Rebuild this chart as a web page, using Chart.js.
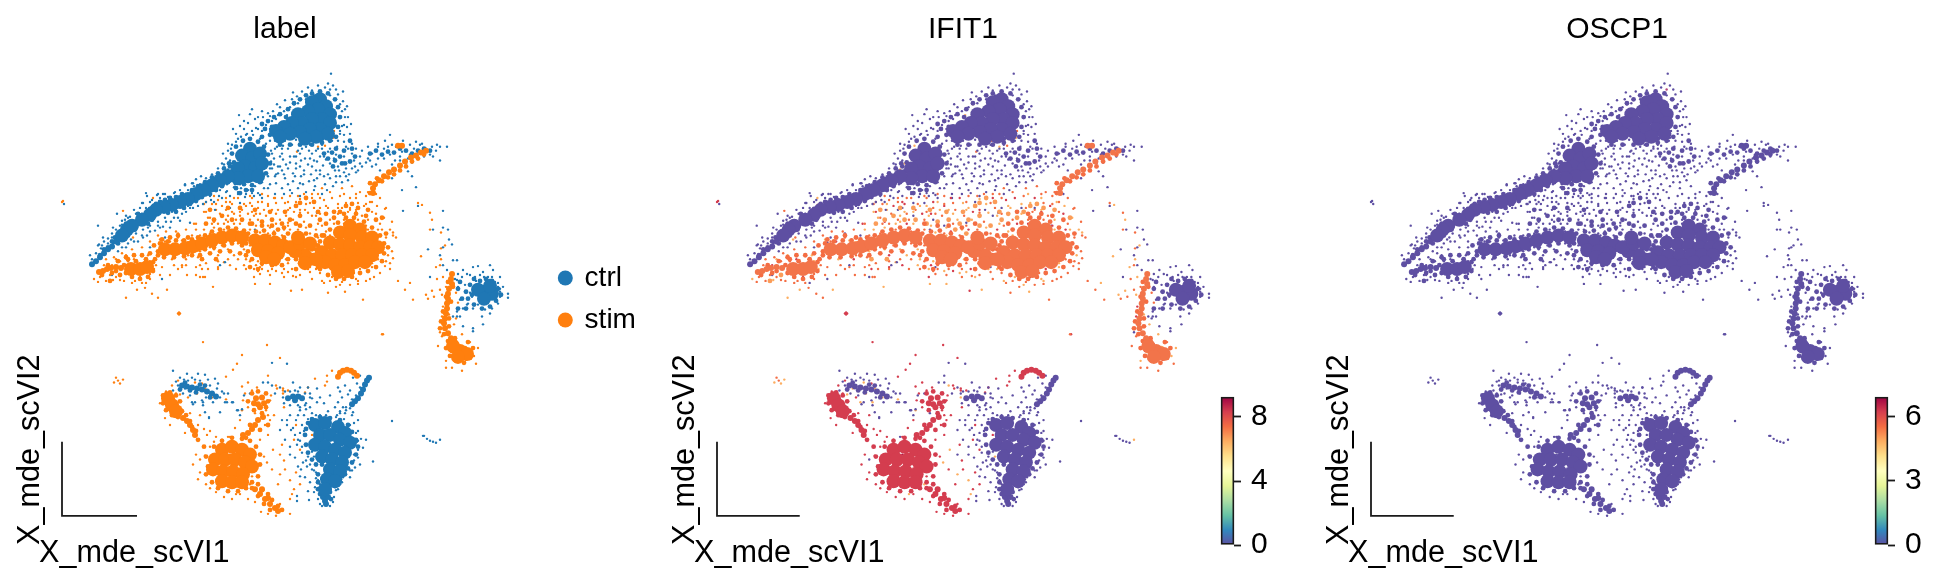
<!DOCTYPE html>
<html><head><meta charset="utf-8">
<style>html,body{margin:0;padding:0;background:#fff;overflow:hidden}canvas{position:absolute}</style>
<script src="https://cdn.jsdelivr.net/npm/chart.js@4"></script>
</head><body>
<script>
// Embedding values, as flat x,y lists (axis units of the first panel).
const ctrlCore=[320,100,312,103,326,107,318,110,308,112,298,115,330,115,322,120,312,120,302,124,292,124,284,128,276,132,330,124,320,130,310,130,300,133,290,135,280,138,328,135,316,138,305,140,250,150,242,157,252,160,260,155,245,168,255,170,262,165,238,170,248,178,258,178,238,180,228,178,220,182,212,187,204,192,196,196,188,201,180,204,172,207,164,209,156,212,150,217,142,222,132,228,127,232,122,238,485,295,478,293,492,297,484,302,490,289,315,430,325,428,338,432,345,438,320,440,330,440,340,445,350,448,315,450,325,452,335,455,345,458,322,462,332,465,342,468,330,475,340,477,327,485,335,487,325,495];
const ctrlBand=[116,244,112,249,108,252,104,256,100,260,96,264,92,267,119,240,182,390,187,391,192,392,197,393,202,394,207,396,212,398,216,401,288,403,293,401,298,401,302,403,295,405,369,382,367,385,365,389,363,394,361,398,358,403,355,406,352,409,325,502,325,507,326,510,323,503,328,503];
const ctrlCloud=[100,258,104,252,108,250,112,244,115,240,118,246,120,236,124,232,128,238,131,226,126,226,135,232,140,226,138,216,145,219,148,226,152,222,150,211,156,206,160,204,165,202,170,200,176,199,182,196,168,215,176,214,184,210,190,206,196,203,202,199,192,192,198,188,205,184,212,179,218,175,224,170,230,168,210,196,216,192,222,188,228,184,234,181,232,155,236,148,243,142,250,140,258,143,264,148,268,156,270,165,266,175,260,184,252,187,244,186,236,184,232,173,229,165,234,164,262,125,268,122,274,118,280,115,288,110,262,138,270,136,265,130,272,128,286,118,294,104,300,100,306,96,312,94,320,92,328,94,335,100,338,108,340,118,338,128,336,138,330,142,322,144,312,146,300,146,290,146,280,146,328,160,335,162,342,165,350,163,352,150,350,142,345,165,333,168,324,155,322,140,355,158,370,155,376,152,382,156,388,153,394,154,400,150,406,152,412,155,418,152,424,150,430,152,470,288,474,282,480,284,486,282,492,284,498,292,501,298,496,304,490,310,482,312,474,308,468,302,466,295,472,298,460,285,458,292,462,302,466,312,458,312,308,428,312,424,320,422,330,423,340,425,348,430,352,437,356,445,358,452,356,460,352,468,348,474,345,480,340,485,335,492,330,498,318,495,318,488,316,470,312,465,308,458,306,450,305,440,306,434,322,470,318,480,325,498,331,505,320,500,185,387,190,395,196,397,205,390,210,402,180,394,200,389,240,195,246,192,252,192,236,190,336,150,344,152,340,158,332,154];
const stimCore=[131,272,140,272,147,270,165,252,175,252,185,251,193,249,202,246,212,243,222,240,232,238,242,240,255,243,265,243,275,245,283,248,258,253,268,254,278,256,266,260,274,262,350,228,360,232,340,235,350,238,362,240,372,240,330,245,340,247,350,248,360,250,370,250,378,250,322,255,332,258,342,258,352,258,362,258,372,258,325,265,335,268,345,268,355,265,365,265,338,275,348,274,305,258,295,254,290,250,300,246,310,246,316,262,305,266,298,240,460,355,453,350,467,358,458,361];
const stimBand=[99,275,103,274,107,272,111,271,116,270,121,271,373,195,373,190,375,186,379,182,384,178,389,174,394,171,400,167,405,163,411,159,416,157,421,154,426,152,398,147,402,147,452,277,451,282,452,287,449,292,448,297,448,302,447,307,447,312,446,317,445,322,444,327,445,332,448,337,451,342];
const stimCloudA=[124,268,126,276,132,280,140,282,148,280,153,274,153,265,146,262,136,264,128,262,116,274,112,276,155,262,158,258,160,246,168,244,176,243,184,243,192,242,198,252,192,258,184,259,174,260,164,260,158,254,205,238,212,234,220,232,228,230,236,231,244,233,205,252,214,250,224,248,232,246,242,248,248,236,256,234,264,233,274,236,284,240,290,246,292,254,288,262,282,268,272,268,262,266,252,262,248,254,246,246,296,244,304,248,312,246,318,248,296,262,304,268,312,266,318,270,300,254,312,258,322,238,330,232,338,225,346,220,354,220,364,224,372,230,380,238,384,246,384,256,382,264,376,270,368,274,360,276,352,280,344,282,336,282,328,278,320,272,316,262,316,252,448,285,453,290,446,300,451,305,443,315,449,322,441,325,449,330,440,332,444,338,455,345,448,345,446,352,450,360,456,365,464,367,470,362,473,352,468,346,455,342,377,180,382,183,388,179,394,176,400,172,406,168,412,163,418,160,424,156,370,185,370,195,
250,226,262,228,272,228,284,230,296,226,306,236,316,238,326,226,334,214,344,216,356,216,366,218,376,222,386,236,388,250,214,238,206,244,198,240,188,240,178,238,170,240,162,242,154,248,150,256,142,258,134,258,126,260,118,264,108,268,102,278,296,250,304,254,312,252,320,244,324,238,300,266,308,262,318,262,296,272,240,236,246,258,240,256,230,254,220,254,210,256,200,258,250,270,258,272];
const stimCloudB=[300,205,306,200,296,208,314,204,352,206,358,210,346,208,340,214,334,220,206,226,214,222,222,218,232,222,242,222,252,226,262,224,272,222,282,226,290,222,300,228,310,228,320,222,326,216,210,212,228,210,340,240,352,232,364,246,376,244,330,250,345,262,358,262,370,262,334,272,350,270,260,248,272,250,262,258,276,260,282,254,170,250,180,254,188,246,220,244,234,240,136,270,144,268,300,240,288,236,278,232,240,210,255,212,270,214,285,214,300,218,318,214,368,212,202,262,216,262,120,278,110,284,382,220,458,358,465,352,452,355];
const hotCore=[168,403,172,410,176,416,222,455,232,452,242,455,250,460,215,465,225,465,235,465,245,468,252,472,213,475,223,477,233,477,243,480,222,487,232,488,242,488];
const hotBand=[183,423,187,426,190,430,193,435,195,440,255,495,260,500,265,505,270,510,275,514,278,517,262,495,268,504,256,403,262,402,258,409,264,408,260,412,254,408,258,425,263,422,255,430,252,434,248,438,243,440,338,381,340,377,343,375,347,374,351,375,354,377,357,380];
const hotCloud=[163,400,163,408,166,415,172,420,178,422,182,416,180,406,176,400,170,397,186,420,190,426,192,432,196,436,206,462,208,472,206,480,212,488,218,494,228,497,238,497,246,494,252,488,258,482,260,470,260,460,256,452,250,446,242,444,232,443,222,446,214,452,252,494,258,490,262,496,268,500,272,506,278,512,282,516,270,516,264,510,258,502,248,406,252,398,258,396,266,398,268,406,266,412,254,415,246,443,250,430,262,418,268,430,260,435,198,445,204,452];
const ctrlSparse=[92,262,96,256,101,251,104,244,99,247,108,241,112,236,106,252,113,246,118,240,116,232,122,227,125,222,130,219,136,216,133,226,139,222,142,216,146,210,143,205,147,198,152,202,157,197,163,196,168,199,174,195,180,192,185,187,192,185,178,201,186,196,191,202,197,194,203,190,208,186,214,180,205,196,212,193,218,186,224,180,229,175,220,192,227,186,233,178,238,170,196,181,201,178,180,209,172,214,165,220,158,224,150,228,143,232,136,236,128,246,122,250,138,244,147,238,155,233,163,229,171,224,178,220,186,214,193,210,203,206,211,202,219,198,226,194,234,189,240,186,90,258,98,248,103,240,98,228,113,230,117,216,122,223,128,220,137,216,142,205,146,195,158,196,165,196,175,194,185,186,193,185,143,240,148,230,160,230,170,230,180,223,188,208,200,200,210,198,227,193,
226,160,231,150,236,143,241,138,247,135,253,136,260,140,266,145,271,152,274,160,272,170,268,178,262,184,255,188,248,192,241,190,235,186,230,180,226,172,222,165,262,132,256,129,244,130,236,135,228,145,223,155,277,148,280,158,278,168,252,195,260,197,245,199,238,196,
331,74,343,92,333,86,328,84,318,86,308,88,302,92,293,93,292,100,277,105,273,112,252,110,239,116,343,102,347,107,345,118,351,125,342,127,338,95,336,90,325,88,312,91,297,97,285,101,280,108,270,117,263,118,255,120,248,124,240,127,233,130,347,128,340,135,344,143,348,150,337,148,332,142,
270,130,278,138,285,142,292,146,300,140,306,148,314,143,322,146,328,153,336,156,344,158,352,155,270,142,275,150,282,155,290,158,298,152,305,160,312,155,320,158,330,165,338,168,346,165,354,162,360,158,280,168,288,170,296,165,304,172,312,168,320,172,328,176,336,178,344,174,352,170,285,180,293,183,301,178,309,183,317,180,325,186,333,188,342,184,275,178,282,190,290,192,298,190,306,194,314,192,322,196,268,190,275,196,283,147,296,141,309,152,318,150,326,161,317,163,301,162,293,175,283,161,271,163,276,185,288,186,311,176,323,167,334,160,339,172,349,176,327,192,
362,152,368,148,372,155,378,160,384,150,390,156,396,148,402,153,408,160,414,150,420,146,426,150,432,148,436,152,440,148,378,145,385,142,392,146,400,158,406,165,412,164,418,160,424,158,366,164,372,168,380,172,388,148,395,162,403,142,410,146,416,143,440,162,433,158,447,148,
390,136,402,192,403,213,416,189,418,208,443,213,433,232,443,230,448,232,428,252,440,258,449,242,452,247,443,250,430,280,412,178,408,173,392,180,317,215,255,232,240,205,230,210,300,198,215,212,190,225,165,240,150,250,162,282,112,278,220,268,225,265,
443,268,447,273,453,263,457,263,463,273,473,270,478,269,490,268,493,273,483,275,470,278,500,280,503,290,508,297,508,301,500,300,498,307,490,317,482,320,483,328,473,332,473,335,463,330,460,320,453,320,457,315,463,312,468,307,460,303,465,295,458,290,457,283,462,280,465,288,470,287,475,280,480,278,488,280,495,285,498,290,500,295,497,305,492,312,485,313,478,308,473,312,467,308,457,320,455,282,458,277,467,277,
173,375,180,382,187,378,192,382,205,379,215,383,200,385,178,390,173,395,183,398,195,407,202,405,213,407,220,402,227,407,232,407,238,415,209,422,193,409,203,410,217,393,210,400,205,417,209,423,220,417,225,407,233,407,237,415,240,420,242,414,263,387,268,387,272,367,287,368,293,387,295,395,300,392,308,392,317,393,312,403,317,407,305,410,298,420,290,420,287,425,282,425,280,435,287,430,293,433,300,438,295,440,285,445,290,452,297,450,305,450,312,457,295,463,303,468,298,472,307,472,300,482,305,483,310,488,315,493,297,502,297,507,308,497,333,508,335,412,343,412,350,413,345,418,337,420,353,417,357,447,363,453,358,455,358,463,373,467,355,473,350,483,343,483,338,392,345,390,357,388,353,382,360,380,392,426,423,441,424,441,427,444,430,446,433,447,436,448,308,424,312,418,320,420,328,416,302,430,306,440,354,428,358,436,361,444,354,466,352,476,316,478,318,486,336,496,340,490,334,503,318,505,322,512,330,512,64,206,342,402,348,399,338,407,350,395,330,400,324,408,310,398,
275,142,288,150,294,158,286,166,278,175,300,168,308,166,316,172,324,178,303,186,295,178,315,188,330,180,340,178,348,182,272,155,282,150,300,155,314,162,322,150,335,172,346,170,355,168,360,165,368,160,376,166,384,160,392,166,400,162,358,172,378,148,410,156,422,145,430,156,437,146,306,414,300,415,296,425,291,435,304,420,310,412,298,445,302,458,306,466,290,460,301,475,312,475,358,425,352,420,346,415,340,418,366,445,360,470,314,498,309,506,320,510,198,378,210,390,188,385,222,396,228,398,244,400,250,398,280,392,275,398,300,400,320,402,300,412,340,396,
340,105,342,112,336,100,330,96,322,96,314,96,306,100,298,104,290,108,284,112,278,116,272,122,266,126,258,130,252,132,246,136,238,140,232,146,228,152,345,110,348,118,344,126,340,132,334,126,344,136,350,135,276,120,268,114,262,112,258,118,244,122,250,115,258,195,264,190,270,186,276,176,282,172,290,164,296,158,302,150,310,146,316,152,324,158,330,150,338,142,346,148,352,145,356,150,265,155,270,170,262,172,274,166,284,176,296,170,310,160,320,176,336,184,346,178,356,174,362,168,370,162,300,185,292,195,284,196,314,182,304,176,120,228,126,218,134,212,140,210,150,204,160,200,170,204,180,200,188,192,194,188,200,186,206,180,212,176,218,170,224,166,230,162,112,240,108,246,102,248,118,254,126,250,134,244,142,238,150,234,158,228,166,224,174,220,182,216,190,210,198,208,206,204,214,204,222,200,230,198,238,194,246,196,254,198,262,200,472,300,470,296,476,284,484,280,492,280,498,286,500,292,304,436,300,446,302,452,308,462,310,470,314,476,316,484,320,490,342,488,338,495,346,470,350,476,354,460,358,446,356,438,350,430,344,424,336,422,326,420,316,420,176,386,184,384,195,384,208,384,218,388,224,398,206,402,190,400,285,396,290,396,298,396,305,398,310,402,284,408,290,410,298,410,306,408,360,392,356,400,352,404,346,412,340,416];
const stimLow=[208,220,216,212,224,226,232,214,246,208,254,218,262,204,272,212,280,222,290,210,300,201,308,215,318,226,326,208,338,216,346,205,356,212,368,222,382,232,377,208,204,232,214,230,228,218,240,226,256,228,270,230,284,232,296,238,306,230,312,242,326,234,116,262,126,258,148,258,160,242,172,262,182,243,200,254,214,252,228,252,244,252,260,235,286,262,300,246,316,272,332,280,356,282,372,270,384,246,388,258,94,282,113,283,137,293,167,293,126,301,213,290,255,287,270,287,302,293,345,295,393,235,410,286,421,259,422,207,432,222,442,298,426,298,153,200,163,213,124,232,235,170,306,124,333,139,318,148,445,248,441,262,436,270,443,280,449,318,454,328,462,338,474,360,478,352,446,365,432,294,120,388,123,384,114,387,270,215,285,205,293,222,338,206,224,265,246,262,258,264,288,275,242,415,226,404,212,402,197,398,205,393,180,399,195,387,236,500,250,490,292,500,290,486,280,480,267,468,273,455,
330,238,338,242,346,232,356,236,366,238,376,252,322,262,332,252,342,252,352,252,362,264,372,266,340,262,350,278,258,240,268,248,278,252,262,256,272,258,270,238,210,238,226,236,176,248,186,254,138,268,150,264,154,272,236,240,294,250,308,252,354,226,344,244,358,244,368,232,
216,206,228,224,240,214,252,208,264,212,276,216,288,212,306,206,316,218,328,210,344,196,356,200,370,204,384,220,390,232,204,214,196,232,234,258,244,268,254,272,268,274,282,276,296,280,308,272,322,284,340,288,358,284];
const stimMid=[204,206,212,226,220,216,236,222,242,212,250,232,258,210,266,218,276,205,286,218,296,208,304,224,314,210,320,216,330,222,342,210,352,206,362,218,372,214,380,226,386,240,200,238,210,236,224,232,238,234,250,222,262,226,276,226,288,228,298,232,310,236,318,240,104,268,110,278,120,264,128,264,145,262,156,268,165,244,178,240,188,258,198,260,210,250,222,248,238,246,250,248,262,268,276,268,288,266,300,262,312,266,320,276,330,284,342,285,354,276,368,274,378,262,386,264,98,285,120,283,145,291,158,301,152,297,187,278,203,280,260,277,293,279,328,296,363,303,358,287,393,261,405,293,418,205,430,215,441,235,441,251,428,302,440,293,123,213,160,215,128,233,133,240,258,160,230,179,297,110,334,132,325,147,297,153,311,142,118,385,116,382,382,338,205,280,196,278,268,236,282,238,292,244,302,270,310,275,322,228,344,222,358,222,440,268,437,282,434,300,446,290,456,296,458,306,442,340,438,350,446,372,470,346,476,368,452,372,462,375,430,232,413,303,385,269,398,284,385,211,393,238,310,205,320,200,358,205,350,212,300,215,348,214,366,206,200,268,174,268,150,277,135,284,162,270,182,270,
212,206,218,202,226,204,234,200,252,200,268,198,290,198,304,196,318,196,340,198,356,196,366,198,372,204,208,272,218,272,236,272,246,272,258,274,270,278,284,280,300,278,312,282,324,286,336,290,350,288,366,284,374,280,390,272,196,226,186,232,176,234,166,234,158,238,150,244,142,250,132,252,122,256,114,260,106,262,
210,220,218,226,226,222,234,216,244,206,252,214,260,216,268,206,278,212,288,204,298,198,312,196,322,190,330,194,342,190,352,188,360,194,368,194,380,200,386,210,392,224,396,240,392,254,390,266,380,276,370,282,206,204,214,198,226,200,238,200,250,198,262,196,100,280,106,284,116,280,124,284,132,286,142,286,150,282,160,278,170,278,178,272,186,268,196,270,206,266,218,264,228,262,238,262,250,264,262,272,272,272,284,272];
const stimHigh=[206,214,222,208,230,204,248,216,268,208,282,200,294,214,312,200,332,200,350,200,364,208,376,216,194,226,208,240,234,226,256,216,274,234,290,232,316,232,334,226,366,228,388,250,112,268,134,262,140,280,170,244,186,262,218,258,262,250,280,252,328,270,346,280,360,272,202,272,230,268,254,280,291,294,267,349,203,346,383,338,179,317,178,317,180,317,179,316,179,318,398,147,400,146,60,202,62,204,63,203,443,310,442,320,450,355,458,348,466,364,176,398,166,396,160,408,165,423,170,430,185,438,198,430,204,434,210,436,216,442,210,452,205,461,196,460,193,470,198,485,200,478,206,490,210,494,216,498,224,503,232,505,240,500,248,505,255,508,261,518,268,520,276,522,290,520,280,510,290,505,294,495,300,490,296,478,285,475,278,490,284,466,272,475,264,462,260,445,265,430,270,425,274,420,266,415,270,405,245,398,252,395,243,405,248,412,240,425,235,433,230,442,222,445,214,447,207,440,200,420,190,418,178,385,202,388,188,402,172,390,283,395,276,390,271,400,242,359,237,368,233,374,226,381,280,362,248,387,242,391,257,392,277,393,283,393,288,395,305,397,315,383,327,380,332,375,327,386,325,390,308,392,268,420,284,412,296,430,312,440,294,445,300,455,268,440,282,450,216,460,228,470,240,474,252,482,
336,250,348,240,360,256,340,264,354,270,368,250,268,250,276,248,262,262,278,262,170,255,182,250,142,276,218,238,230,244,344,226,374,258,328,258,214,224,232,206,258,204,274,200,300,212,324,202,356,214,378,232,218,270,256,268,276,274,292,272];
const stimPeak=[168,402,171,405,165,408,174,410,170,412,177,414,168,398,178,420,226,468,232,474,238,468,244,464,222,462,216,470,230,460,236,480,224,480,246,476,232,490,240,486,220,490,214,480,266,247,358,248,340,255,168,254,172,250,228,456,238,458,250,470,218,484];
const stimZero=[215,222,240,218,288,225,305,212,330,232,350,210,260,270,182,268,146,286,310,270,200,280,275,200,320,210,250,205,365,228,376,196,238,240,162,245,456,322,440,336,228,442,268,380,248,465,200,465,280,460,283,398,255,418,226,212,258,222,296,204,338,210,312,218,268,228,178,236,192,238];
const ctrlWarm=[294,105,307,112,287,116,293,119,300,111,311,126,298,127,241,147,248,148,246,159,251,160,228,171,232,165,188,201,153,207,171,212,154,215,122,234,131,242,314,117,317,110,317,433,329,453,320,443,337,460,314,462,332,462,185,393,196,392,192,407,203,407,483,292,490,298,272,390,283,402,440,445];
const oscpWarm=[286,124,297,120,303,118,330,90,245,165];
const axisCorner=[62,447,62,522,137,522];
const ifitBarTicks=[0,4,8];
const oscpBarTicks=[0,3,6];
const ifitBarMax=9.25;
const oscpBarMax=6.9;
const groupNames=['ctrl','stim'];
const panelTitles=['label','IFIT1','OSCP1'];
const axisNames=['X_mde_scVI1','X_mde_scVI2'];

const SANS='"Liberation Sans", Arial, sans-serif';
const INK='#1a1a1a', BLUE='#1f77b4', ORANGE='#ff7f0e', VIOLET='#5e4fa2';
const spectral=['#5e4fa2','#3288bd','#66c2a5','#abdda4','#e6f598','#ffffbf','#fee08b','#fdae61','#f46d43','#d53e4f','#9e0142'];
const pts=a=>{const o=[];for(let i=0;i+1<a.length;i+=2)o.push({x:a[i],y:a[i+1]});return o;};
const ds=(a,c,r)=>({data:pts(a),backgroundColor:c,borderWidth:0,pointRadius:r,pointHoverRadius:r,clip:false,showLine:false});
const CORE=7,BAND=3,CLOUD=2.4,DOT=1.2;
function canvas(l,t,w,h){const c=document.createElement('canvas');c.width=w;c.height=h;c.style.cssText=`left:${l}px;top:${t}px;width:${w}px;height:${h}px`;document.body.appendChild(c);return c;}
Chart.defaults.animation=false;

function panel(i,left,width,c){
  const pad=50;
  const el=canvas(left-pad,0,width+2*pad,584);
  const datasets=[
    ds(stimCore,c.core,CORE),ds(hotCore,c.hot,CORE),ds(ctrlCore,c.ctrl,CORE),
    ds(stimBand,c.core,BAND),ds(hotBand,c.hot,BAND),ds(ctrlBand,c.ctrl,BAND),
    ds(stimCloudA,c.cloudA,CLOUD),ds(stimCloudB,c.cloudB,CLOUD),ds(hotCloud,c.hot,CLOUD),ds(ctrlCloud,c.ctrl,CLOUD),
    ds(ctrlSparse,c.ctrl,DOT),ds(stimLow,c.low,DOT),ds(stimMid,c.mid,DOT),ds(stimHigh,c.high,DOT),
    ds(stimPeak,c.peak,DOT),ds(stimZero,c.zero,DOT),ds(ctrlWarm,c.warm,DOT),ds(oscpWarm,c.oscp,DOT),
    {data:pts(axisCorner),showLine:true,borderColor:INK,borderWidth:1.8,pointRadius:0,clip:false,fill:false,tension:0}
  ];
  new Chart(el,{type:'scatter',data:{datasets},
    options:{responsive:false,devicePixelRatio:1,layout:{padding:{left:pad,right:pad,top:0,bottom:0}},
      scales:{x:{display:false,min:62,max:508},y:{display:false,min:48,max:584,reverse:true}},
      plugins:{legend:{display:false},tooltip:{enabled:false},
        title:{display:true,text:panelTitles[i],color:'#000',font:{family:SANS,size:30,weight:'normal'},padding:{top:12,bottom:0}}}},
    plugins:[{id:'axisNames',afterDraw(ch){const g=ch.ctx,a=ch.chartArea;g.save();g.fillStyle='#000';g.font='30.6px '+SANS;g.textBaseline='alphabetic';g.textAlign='left';
      g.fillText(axisNames[0],a.left-23,562);
      g.translate(a.left-23,545);g.rotate(-Math.PI/2);g.fillText(axisNames[1],0,0);g.restore();}}]
  });
}
panel(0,62,446,{core:ORANGE,hot:ORANGE,ctrl:BLUE,cloudA:ORANGE,cloudB:ORANGE,low:ORANGE,mid:ORANGE,high:ORANGE,peak:ORANGE,zero:ORANGE,warm:BLUE,oscp:BLUE});
panel(1,717,492,{core:'#f2744a',hot:'#d43d4f',ctrl:VIOLET,cloudA:'#f46d43',cloudB:'#fb9c59',low:'#fdae61',mid:'#f46d43',high:'#d53e4f',peak:'#a50f47',zero:VIOLET,warm:'#fdae61',oscp:VIOLET});
panel(2,1371,492,{core:VIOLET,hot:VIOLET,ctrl:VIOLET,cloudA:VIOLET,cloudB:VIOLET,low:VIOLET,mid:VIOLET,high:VIOLET,peak:VIOLET,zero:VIOLET,warm:VIOLET,oscp:'#b5477f'});

function colorbar(left,ticks,max){
  const el=canvas(left-6,380,6+13+50,190);
  new Chart(el,{type:'bar',data:{labels:['value'],datasets:[{data:[[0,max]],borderColor:INK,borderWidth:1.8,borderSkipped:false,barPercentage:1,categoryPercentage:1,clip:false,
      backgroundColor(ctx){const a=ctx.chart.chartArea;if(!a)return spectral[0];const g=ctx.chart.ctx.createLinearGradient(0,a.bottom,0,a.top);spectral.forEach((s,i)=>g.addColorStop(i/(spectral.length-1),s));return g;}}]},
    options:{responsive:false,devicePixelRatio:1,layout:{padding:{left:6,top:17,bottom:25,right:0}},
      scales:{x:{display:false},y:{position:'right',min:0,max,afterFit(s){s.width=50;s.paddingTop=0;s.paddingBottom=0;s.paddingLeft=0;s.paddingRight=0;},afterBuildTicks(s){s.ticks=ticks.map(v=>({value:v}));},
        border:{display:false},grid:{drawOnChartArea:false,drawTicks:true,tickLength:7,tickWidth:1.8,tickColor:INK,color:INK},
        ticks:{color:'#000',padding:10,font:{family:SANS,size:30},callback:v=>String(v),maxRotation:0}}},
      plugins:{legend:{display:false},tooltip:{enabled:false}}}});
}
colorbar(1221,ifitBarTicks,ifitBarMax);
colorbar(1875,oscpBarTicks,oscpBarMax);

new Chart(canvas(546,229,300,140),{type:'scatter',data:{datasets:[
  {label:groupNames[0],data:[],backgroundColor:BLUE,borderWidth:0,pointStyle:'circle'},
  {label:groupNames[1],data:[],backgroundColor:ORANGE,borderWidth:0,pointStyle:'circle'}]},
  options:{responsive:false,devicePixelRatio:1,scales:{x:{display:false},y:{display:false}},
    plugins:{tooltip:{enabled:false},legend:{position:'left',align:'center',labels:{usePointStyle:true,boxWidth:10.6,boxHeight:10.6,color:'#000',padding:14,font:{family:SANS,size:28}}}}}});
</script>
</body></html>
